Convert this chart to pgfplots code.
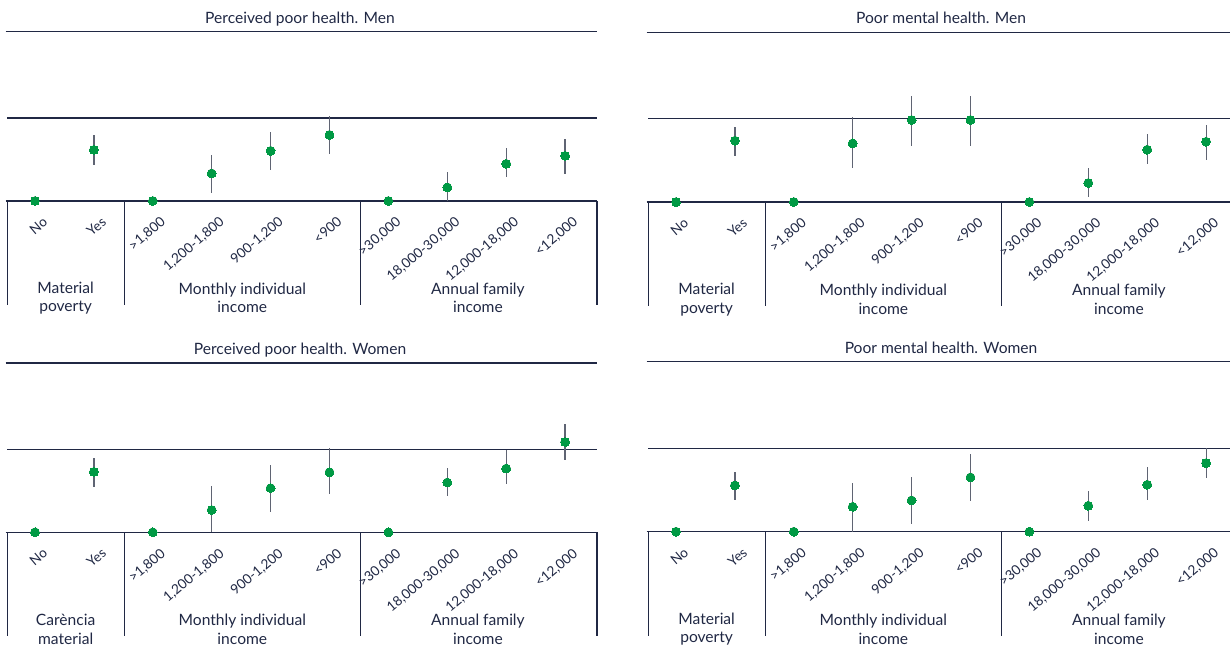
\documentclass[border=0pt]{standalone}
\usepackage{pgfplots}
\pgfplotsset{compat=1.18}
\usepackage{pgfplotstable}
\usepackage{fontspec}
\setmainfont{Lato}
\definecolor{navy}{RGB}{32,40,68}
\definecolor{dotgreen}{RGB}{0,154,68}
\definecolor{errgray}{RGB}{95,100,115}

\pgfplotstableread{
x y ep em
0 0 0 0
1 0.616 0.176 0.184
2 0 0 0
3 0.332 0.22 0.232
4 0.604 0.224 0.232
5 0.796 0.224 0.232
6 0 0 0
7 0.164 0.188 0.164
8 0.448 0.192 0.164
9 0.544 0.208 0.22
}\dataA
\pgfplotstableread{
x y ep em
0 0 0 0
1 0.736 0.168 0.18
2 0 0 0
3 0.704 0.312 0.296
4 0.984 0.292 0.312
5 0.984 0.292 0.312
6 0 0 0
7 0.228 0.184 0.172
8 0.628 0.184 0.168
9 0.724 0.204 0.224
}\dataB
\pgfplotstableread{
x y ep em
0 0 0 0
1 0.728 0.172 0.18
2 0 0 0
3 0.268 0.296 0.268
4 0.532 0.284 0.284
5 0.724 0.288 0.268
6 0 0 0
7 0.60 0.172 0.168
8 0.768 0.228 0.188
9 1.088 0.216 0.212
}\dataC
\pgfplotstableread{
x y ep em
0 0 0 0
1 0.556 0.164 0.18
2 0 0 0
3 0.30 0.284 0.30
4 0.376 0.284 0.284
5 0.652 0.28 0.288
6 0 0 0
7 0.312 0.172 0.184
8 0.564 0.212 0.18
9 0.824 0.176 0.184
}\dataD

\pgfplotsset{
  panel/.style={scale only axis, hide axis, clip=false,
    xmin=-0.5, xmax=9.5, ymin=-1.3, ymax=2.05, anchor=south west},
  errs/.style={only marks, mark=none, draw=none,
    error bars/.cd, y dir=both, y explicit, error mark=none,
    error bar style={errgray, line width=0.6pt}},
  pts/.style={only marks, mark=*, mark size=2.2pt, color=dotgreen,
    mark options={draw=dotgreen, fill=dotgreen, line width=0pt}},
}
\tikzset{
  ln/.style={navy, line width=0.6pt},
  ttl/.style={font=\fontsize{7.8}{9}\selectfont, text=navy, anchor=base},
  tck/.style={font=\fontsize{6.8}{8}\selectfont, text=navy, inner sep=0pt},
  grp/.style={font=\fontsize{7.8}{9.2}\selectfont, text=navy, align=center},
}
\newcommand{\tl}[2]{\node[tck, xshift=3.5pt, yshift=-7.3pt, rotate=40, anchor=north east] at (axis cs:#1,0) {#2};}
\newcommand{\sep}[1]{\draw[ln] (axis cs:#1,0) -- (axis cs:#1,-1.25);}

\newcommand{\panelbody}[4]{%
  \draw[ln] (axis cs:-0.5,2.04) -- (axis cs:9.55,2.04);
  \draw[ln] (axis cs:-0.47,1) -- (axis cs:9.55,1);
  \draw[ln] (axis cs:-0.5,0) -- (axis cs:9.55,0);
  \sep{-0.47}\sep{1.52}\sep{5.52}\sep{#4}
  \node[ttl] at (axis cs:4.5,2.04) [yshift=4.3pt] {#1};
  \node[grp] at (axis cs:0.52,-1.17) {#2};
  \node[grp] at (axis cs:3.52,-1.17) {Monthly individual\\income};
  \node[grp] at (axis cs:7.52,-1.17) {Annual family\\income};
  \tl{0}{No}\tl{1}{Yes}\tl{2}{>1,800}\tl{3}{1,200-1,800}\tl{4}{900-1,200}\tl{5}{<900}
  \tl{6}{>30,000}\tl{7}{18,000-30,000}\tl{8}{12,000-18,000}\tl{9}{<12,000}
  \addplot[errs] table[x=x, y=y, y error plus=ep, y error minus=em] {#3};
  \addplot[pts] table[x=x, y=y] {#3};
}

\begin{document}
\begin{tikzpicture}
\begin{axis}[panel, at={(2.775pt,168.55pt)}, width=294.5pt, height=139pt]
  \panelbody{Perceived poor health. Men}{Material\\poverty}{\dataA}{9.54}
\end{axis}
\begin{axis}[panel, at={(323.275pt,167.85pt)}, width=294.5pt, height=139.5pt]
  \panelbody{Poor mental health. Men}{Material\\poverty}{\dataB}{9.54}
\end{axis}
\begin{axis}[panel, at={(2.775pt,2.9pt)}, width=294.5pt, height=139pt]
  \panelbody{Perceived poor health. Women}{Carència\\material}{\dataC}{9.54}
\end{axis}
\begin{axis}[panel, at={(323.275pt,3pt)}, width=294.5pt, height=139.5pt]
  \panelbody{Poor mental health. Women}{Material\\poverty}{\dataD}{9.54}
\end{axis}
\pgfresetboundingbox
\useasboundingbox (0,0) rectangle (615pt,323pt);
\end{tikzpicture}
\end{document}
